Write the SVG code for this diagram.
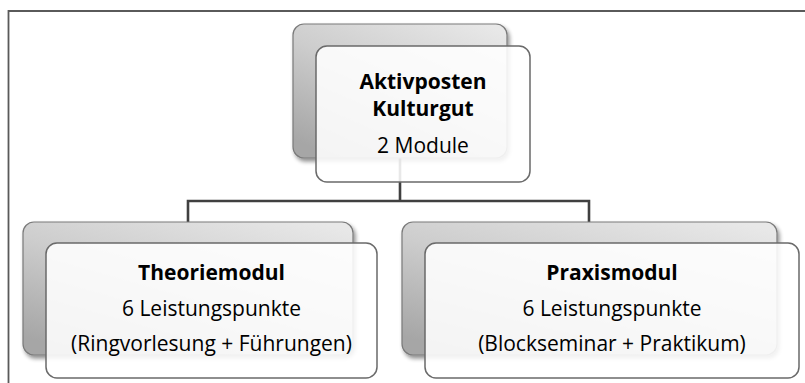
<svg xmlns="http://www.w3.org/2000/svg" width="805" height="383" viewBox="0 0 805 383">
  <defs>
    <linearGradient id="backGrad" x1="0.9" y1="0" x2="0.2" y2="1">
      <stop offset="0" stop-color="#e8e8e8"/>
      <stop offset="0.5" stop-color="#cdcdcd"/>
      <stop offset="1" stop-color="#a6a6a6"/>
    </linearGradient>
    <filter id="shadow" x="-10%" y="-10%" width="125%" height="130%">
      <feGaussianBlur in="SourceAlpha" stdDeviation="2"/>
      <feOffset dx="1.5" dy="2.5" result="b"/>
      <feComponentTransfer><feFuncA type="linear" slope="0.45"/></feComponentTransfer>
      <feMerge><feMergeNode/><feMergeNode in="SourceGraphic"/></feMerge>
    </filter>
  </defs>
  <style>
    .back { fill: url(#backGrad); stroke: #7a7a7a; stroke-width: 1.2; }
    .front { fill: #ffffff; fill-opacity: 0.88; stroke: #6a6a6a; stroke-width: 1.5; }
    .conn { fill: none; stroke: #404040; stroke-width: 2.6; }
    .frame { fill: none; stroke: #5a5a5a; stroke-width: 1.8; }
    text { font-family: "Open Sans", "Liberation Sans", sans-serif; font-size: 21px; fill: #000; text-anchor: middle; }
    .b { font-weight: bold; }
  </style>
  <rect x="0" y="0" width="805" height="383" fill="#ffffff"/>
  <path class="frame" d="M8.5,383 V11 H805"/>
  <g id="connectors">
    <path class="conn" d="M400,158 V201 M188,222 V201 H589 V222"/>
  </g>
  <g id="node-root">
    <rect class="back" x="293" y="24" width="214" height="134" rx="11" filter="url(#shadow)"/>
    <rect class="front" x="316" y="46" width="214" height="136" rx="11"/>
    <text class="b" x="423" y="89">Aktivposten</text>
    <text class="b" x="423" y="116">Kulturgut</text>
    <text x="423" y="153">2 Module</text>
  </g>
  <g id="node-theorie">
    <rect class="back" x="23" y="222" width="330" height="133" rx="11" filter="url(#shadow)"/>
    <rect class="front" x="46" y="243" width="331" height="135" rx="11"/>
    <text class="b" x="211.5" y="280">Theoriemodul</text>
    <text x="211.5" y="316">6 Leistungspunkte</text>
    <text x="211.5" y="351">(Ringvorlesung + Führungen)</text>
  </g>
  <g id="node-praxis">
    <rect class="back" x="402" y="222" width="375" height="133" rx="11" filter="url(#shadow)"/>
    <rect class="front" x="425" y="243" width="374" height="135" rx="11"/>
    <text class="b" x="612" y="280">Praxismodul</text>
    <text x="612" y="316">6 Leistungspunkte</text>
    <text x="612" y="351">(Blockseminar + Praktikum)</text>
  </g>
</svg>
